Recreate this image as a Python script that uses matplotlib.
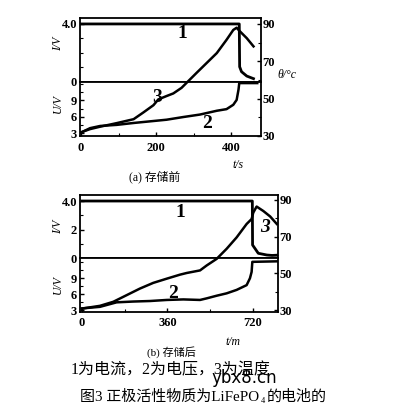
import matplotlib
matplotlib.use('Agg')
import matplotlib.pyplot as plt
from matplotlib.ticker import MultipleLocator

# ---- (a) before storage, t in s ----
a_I_t = [0, 422, 423, 428, 442, 460]
a_I = [4.0, 4.0, 1.05, 0.71, 0.41, 0.23]
a_U_t = [0, 24, 51, 95, 140, 184, 228, 273, 317, 362, 388, 406, 415, 420, 422, 470]
a_U = [3.1, 3.9, 4.3, 4.5, 4.85, 5.15, 5.45, 5.95, 6.4, 7.1, 7.4, 8.2, 9.1, 11.0, 12.2, 12.2]
a_T_t = [0, 24, 51, 95, 140, 166, 193, 206, 228, 246, 268, 286, 308, 335, 362, 388, 406, 415, 422, 442, 460]
a_T = [32, 33.7, 35, 36.9, 39, 42.6, 46.5, 49.6, 51.4, 52.8, 55.8, 59.4, 63.8, 69.1, 74.4, 81.5, 86.8, 88, 86.4, 82.4, 78]

# ---- (b) after storage, t in min ----
b_I_t = [0, 717, 718, 742, 778, 800, 824]
b_I = [4.0, 4.0, 0.93, 0.35, 0.23, 0.2, 0.22]
b_U_t = [0, 76, 146, 216, 287, 357, 427, 497, 525, 567, 609, 651, 693, 707, 714, 717, 824]
b_U = [3.3, 3.6, 4.45, 4.6, 4.7, 4.9, 5.0, 4.9, 5.2, 5.7, 6.15, 6.8, 7.7, 9.0, 10.2, 12.1, 12.2]
b_T_t = [0, 76, 132, 188, 244, 300, 357, 413, 441, 497, 525, 567, 609, 651, 693, 714, 721, 735, 763, 792, 820]
b_T = [30.8, 32.3, 34.5, 38.1, 41.7, 44.8, 47.1, 49.3, 50.2, 51.6, 54.3, 57.9, 63.4, 69.6, 76.9, 79.6, 83.1, 86.4, 84, 81, 76.9]

W, H = 393, 408
fig = plt.figure(figsize=(W / 100, H / 100), dpi=100)
serif = ['Liberation Serif', 'DejaVu Serif']
cjk = ['Liberation Serif', 'Noto Sans CJK SC']


def px(x, y):
    return x / W, 1 - y / H


def style(ax):
    for s in ax.spines.values():
        s.set_linewidth(1.3)
    ax.tick_params(direction='in', length=3, width=1, labelsize=9)
    ax.tick_params(which='minor', direction='in', length=2, width=0.8)
    for lab in ax.get_xticklabels() + ax.get_yticklabels():
        lab.set_fontfamily(serif)
        lab.set_fontweight('bold')


def panel(left, right, top, mid, bottom, xlim, xticks, xminor, Ilim, Iticks, Ulim, Tlim,
          It, I, Ut, U, Tt, T):
    l, _ = px(left, 0)
    w = (right - left) / W
    _, ym = px(0, mid)
    _, yt = px(0, top)
    _, yb = px(0, bottom)
    ax_i = fig.add_axes([l, ym, w, yt - ym])
    ax_u = fig.add_axes([l, yb, w, ym - yb])
    ax_t = fig.add_axes([l, yb, w, yt - yb])
    ax_t.patch.set_visible(False)

    ax_i.plot(It, I, color='black', lw=2)
    ax_u.plot(Ut, U, color='black', lw=1.8)
    ax_t.plot(Tt, T, color='black', lw=1.8)

    for ax in (ax_i, ax_u, ax_t):
        ax.set_xlim(*xlim)
    ax_i.set_ylim(*Ilim)
    ax_u.set_ylim(*Ulim)
    ax_t.set_ylim(*Tlim)

    ax_i.set_xticks([])
    ax_i.set_yticks(Iticks)
    ax_i.set_yticklabels(['4.0' if v == 4 else '%g' % v for v in Iticks])
    ax_i.yaxis.set_minor_locator(MultipleLocator(1))

    ax_u.set_yticks([3, 6, 9])
    ax_u.yaxis.set_minor_locator(MultipleLocator(1.5))
    ax_u.set_xticks(xticks)
    ax_u.xaxis.set_minor_locator(MultipleLocator(xminor))

    ax_t.set_xticks([])
    ax_t.yaxis.tick_right()
    ax_t.set_yticks([30, 50, 70, 90])
    ax_t.yaxis.set_minor_locator(MultipleLocator(10))
    for s in ax_t.spines.values():
        s.set_visible(False)

    for ax in (ax_i, ax_u, ax_t):
        style(ax)
    ax_t.tick_params(axis='y', pad=1)
    ax_i.tick_params(axis='y', pad=2)
    ax_u.tick_params(axis='y', pad=2)
    ax_u.tick_params(axis='x', pad=4)
    return ax_i, ax_u, ax_t


panel(80, 261, 18, 82, 136, (-3, 480), [0, 200, 400], 100, (0, 4.41), [0, 4.0],
      (2.45, 12.4), (30.5, 93.2), a_I_t, a_I, a_U_t, a_U, a_T_t, a_T)
panel(80, 278, 195, 258.3, 311.7, (-8, 825), [0, 360, 720], 180, (0, 4.42), [0, 2, 4.0],
      (2.68, 12.77), (29.1, 92.7), b_I_t, b_I, b_U_t, b_U, b_T_t, b_T)


def t(x, y, s, size=8, style='italic', weight='normal', rot=0, fam=serif, ha='center'):
    return fig.text(*px(x, y), s, fontsize=size, fontstyle=style, fontweight=weight,
                    rotation=rot, family=fam, ha=ha, va='center')


# axis labels
t(58, 44, 'I/V', size=8.5, rot=90)
t(58, 104, 'U/V', size=8.5, rot=90)
t(58, 227, 'I/V', size=8.5, rot=90)
t(58, 285, 'U/V', size=8.5, rot=90)
t(287, 75, 'θ/°c', size=8.5)
t(238, 165, 't/s', size=8.5)
t(233, 342, 't/m', size=8.5)

# curve numbers
t(182, 34, '1', size=14, style='normal', weight='bold')
t(157, 97, '3', size=14, style='normal', weight='bold')
t(207, 123, '2', size=14, style='normal', weight='bold')
t(180, 212, '1', size=14, style='normal', weight='bold')
t(173, 293, '2', size=14, style='normal', weight='bold')
t(265, 227, '3', size=14, style='italic', weight='bold')

# captions
t(155, 177, '(a) 存储前', size=8.5, style='normal', fam=cjk)
t(171, 352, '(b) 存储后', size=8, style='normal', fam=cjk)
t(171, 370, '1为电流，2为电压，3为温度', size=11.5, style='normal', fam=cjk)

# figure title with subscript, placed piece by piece
r = fig.canvas.get_renderer()
p1 = t(80, 397, '图3 正极活性物质为LiFePO', size=10.8, style='normal', fam=cjk, ha='left')
x1 = p1.get_window_extent(r).x1
p2 = t(x1 + 1.5, 401, '4', size=6, style='normal', fam=cjk, ha='left')
x2 = p2.get_window_extent(r).x1
t(x2 + 1.5, 397, '的电池的', size=10.8, style='normal', fam=cjk, ha='left')

t(244, 378, 'ybx8.cn', size=12, style='normal', fam=['DejaVu Sans'])

fig.savefig('out.png', dpi=100)
